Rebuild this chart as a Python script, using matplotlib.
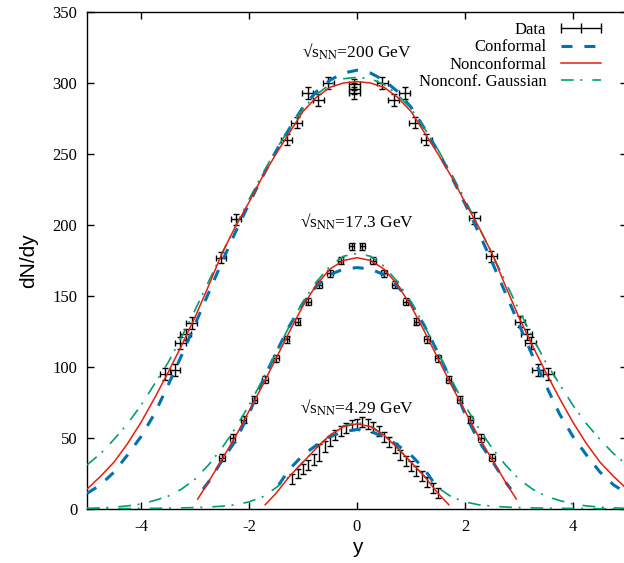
import numpy as np
import matplotlib
matplotlib.use("Agg")
import matplotlib.pyplot as plt
from matplotlib.lines import Line2D

# === colours (gnuplot default palette) ===
C_BLUE = "#0072b2"
C_RED = "#e51e10"
C_GREEN = "#009e73"

# === data: sqrt(s_NN) = 200 GeV ===
x_200 = [-3.55, -3.37, -3.27, -3.17, -3.06, -2.52, -2.24, -1.30, -1.12, -0.91, -0.72, -0.53,
         -0.05, -0.05, -0.05, 0.47, 0.68, 0.88, 1.07, 1.28, 2.17, 2.49, 3.02, 3.14, 3.22, 3.35, 3.54]
y_200 = [95, 98, 117, 123, 131, 177, 204, 260, 272, 293, 288, 300,
         293, 296, 299, 300, 288, 293, 272, 260, 205, 178, 132, 123, 117, 98, 95]

# === data: 17.3 GeV ===
x_17 = [-2.5, -2.3, -2.1, -1.9, -1.7, -1.5, -1.3, -1.1, -0.9, -0.7, -0.5, -0.3, -0.1,
        0.1, 0.3, 0.5, 0.7, 0.9, 1.1, 1.3, 1.5, 1.7, 1.9, 2.1, 2.3, 2.5]
y_17 = [36, 50, 63, 77, 91, 106, 119.5, 132, 146, 158, 166, 175, 185,
        185, 175, 166, 158, 146, 132, 119.5, 106, 91, 77, 63, 50, 36]

# === data: 4.29 GeV ===
x_4 = [-1.2, -1.1, -1.0, -0.9, -0.8, -0.7, -0.6, -0.5, -0.4, -0.3, -0.2, -0.1, 0.0, 0.1,
       0.2, 0.3, 0.4, 0.5, 0.6, 0.7, 0.8, 0.9, 1.0, 1.1, 1.2, 1.3, 1.4, 1.5]
y_4 = [21, 25, 28, 31, 35, 40, 44, 48, 52, 55, 57, 59, 60, 61,
       60, 58, 55, 51, 47, 43, 38, 34, 30, 27, 23, 19, 15, 11]
yerr_4 = [3.5, 3.5, 3.5, 3.5, 4, 6, 4, 3.5, 3.5, 3.5, 3.5, 3.5, 3.5, 3.5,
          3.5, 3.5, 3.5, 3.5, 3.5, 3.5, 3.5, 3.5, 3.5, 3.5, 3.5, 3.5, 3.5, 3.5]

# === model curves, half (y >= 0), curves are symmetric ===
yh_full = [0, 0.25, 0.5, 0.75, 1.0, 1.25, 1.5, 1.75, 2.0, 2.25, 2.5, 2.75, 3.0, 3.25, 3.5,
           3.75, 4.0, 4.25, 4.5, 4.75, 5.0]
conf_200 = [309, 307, 302, 294, 283, 268, 252, 234, 215, 195, 174, 152, 130, 108, 87,
            67, 51, 38, 26, 17, 11]
nonconf_200 = [301, 300, 297, 290, 280, 265, 250, 234, 216, 199, 180, 157, 135, 115, 96,
               78, 61, 46, 33, 23, 14]
gauss_200 = [304, 303, 299, 292, 282, 268, 253, 236, 218, 199, 180, 160, 140, 121, 103,
             88, 73, 60, 49, 39, 31]

yh_conf_17 = [0, 0.25, 0.5, 0.75, 1.0, 1.25, 1.5, 1.75, 2.0, 2.25, 2.5, 2.75, 2.85]
conf_17 = [170, 169, 165, 157, 145, 129, 110, 90, 67, 48, 34, 19, 14]
yh_nonconf_17 = [0, 0.25, 0.5, 0.75, 1.0, 1.25, 1.5, 1.75, 2.0, 2.25, 2.5, 2.75, 2.95]
nonconf_17 = [177, 175, 169, 158, 143, 125, 106, 87, 69, 51, 35, 19, 7]
gauss_17 = [180, 178, 171, 160, 146, 129, 110, 91, 73, 57, 43, 31, 21, 14, 9,
            6, 3.5, 2.2, 1.3, 0.8, 0.5]

yh_conf_4 = [0, 0.25, 0.5, 0.75, 1.0, 1.25, 1.45]
conf_4 = [56, 54.5, 51, 45, 38, 28, 17]
yh_nonconf_4 = [0, 0.25, 0.5, 0.75, 1.0, 1.25, 1.5, 1.7]
nonconf_4 = [60, 58, 52, 43, 33, 23, 11, 3]
gauss_4 = [61, 58.5, 52, 43, 33, 23, 15, 8.5, 5, 3, 2, 1.4, 1.0, 0.8, 0.6,
           0.5, 0.4, 0.3, 0.2, 0.15, 0.1]

energy_labels = ["200 GeV", "17.3 GeV", "4.29 GeV"]


def mirror(xh, vh):
    xh = np.asarray(xh, float)
    vh = np.asarray(vh, float)
    return np.concatenate([-xh[:0:-1], xh]), np.concatenate([vh[:0:-1], vh])


plt.rcParams["mathtext.fontset"] = "stix"
plt.rcParams["axes.unicode_minus"] = False
SERIF = "Liberation Serif"

fig = plt.figure(figsize=(6.24, 5.63), dpi=100)
ax = fig.add_axes([0.1394, 0.0959, 0.8654, 0.8828])

ebkw = dict(fmt="none", ecolor="black", elinewidth=1.0, capsize=2.5, capthick=1.0, zorder=2)
ax.errorbar(x_200, y_200, xerr=0.1, yerr=4, **ebkw)
ax.errorbar(x_17, y_17, xerr=0.05, yerr=2.5, **ebkw)
ax.errorbar(x_4, y_4, yerr=yerr_4, **ebkw)

conf_kw = dict(color=C_BLUE, lw=2.2, dashes=(3.6, 3.9), zorder=3)
nonconf_kw = dict(color=C_RED, lw=1.1, zorder=4)
gauss_kw = dict(color=C_GREEN, lw=1.2, dashes=(7.6, 4.0, 1.2, 6.0), zorder=3)

for xh, vh in [(yh_full, conf_200), (yh_conf_17, conf_17), (yh_conf_4, conf_4)]:
    ax.plot(*mirror(xh, vh), **conf_kw)
for xh, vh in [(yh_full, nonconf_200), (yh_nonconf_17, nonconf_17), (yh_nonconf_4, nonconf_4)]:
    ax.plot(*mirror(xh, vh), **nonconf_kw)
for xh, vh in [(yh_full, gauss_200), (yh_full, gauss_17), (yh_full, gauss_4)]:
    ax.plot(*mirror(xh, vh), **gauss_kw)

# energy labels
for yv, lab in zip([322, 202, 71], energy_labels):
    ax.text(0.0, yv, "\u221as$_{\\mathrm{NN}}$=" + lab, ha="center", va="center",
            fontsize=12.5, family=SERIF)

ax.set_xlim(-5, 5)
ax.set_ylim(0, 350)
ax.set_xticks([-4, -2, 0, 2, 4])
ax.set_yticks(np.arange(0, 351, 50))
ax.tick_params(direction="in", top=True, right=True, length=5, width=1, labelsize=12, pad=7)
for lab in ax.get_xticklabels() + ax.get_yticklabels():
    lab.set_family(SERIF)
for s in ax.spines.values():
    s.set_linewidth(1.0)

ax.set_xlabel("y", fontsize=15, family="Liberation Sans", labelpad=2)
ax.set_ylabel("dN/dy", fontsize=15, family="Liberation Sans", labelpad=10)

handles = [
    Line2D([], [], color="black", lw=1.0, marker="|", markersize=7, markeredgewidth=1.0),
    Line2D([], [], **conf_kw),
    Line2D([], [], **nonconf_kw),
    Line2D([], [], **gauss_kw),
]
labels = ["Data", "Conformal", "Nonconformal", "Nonconf. Gaussian"]
ax.legend(handles, labels, loc="upper right", bbox_to_anchor=(0.974, 0.993), frameon=False,
          markerfirst=False, numpoints=3, handlelength=3.0, handletextpad=0.6,
          labelspacing=0.08, borderaxespad=0.0, prop={"family": SERIF, "size": 12})

fig.savefig("out.png", dpi=100)
